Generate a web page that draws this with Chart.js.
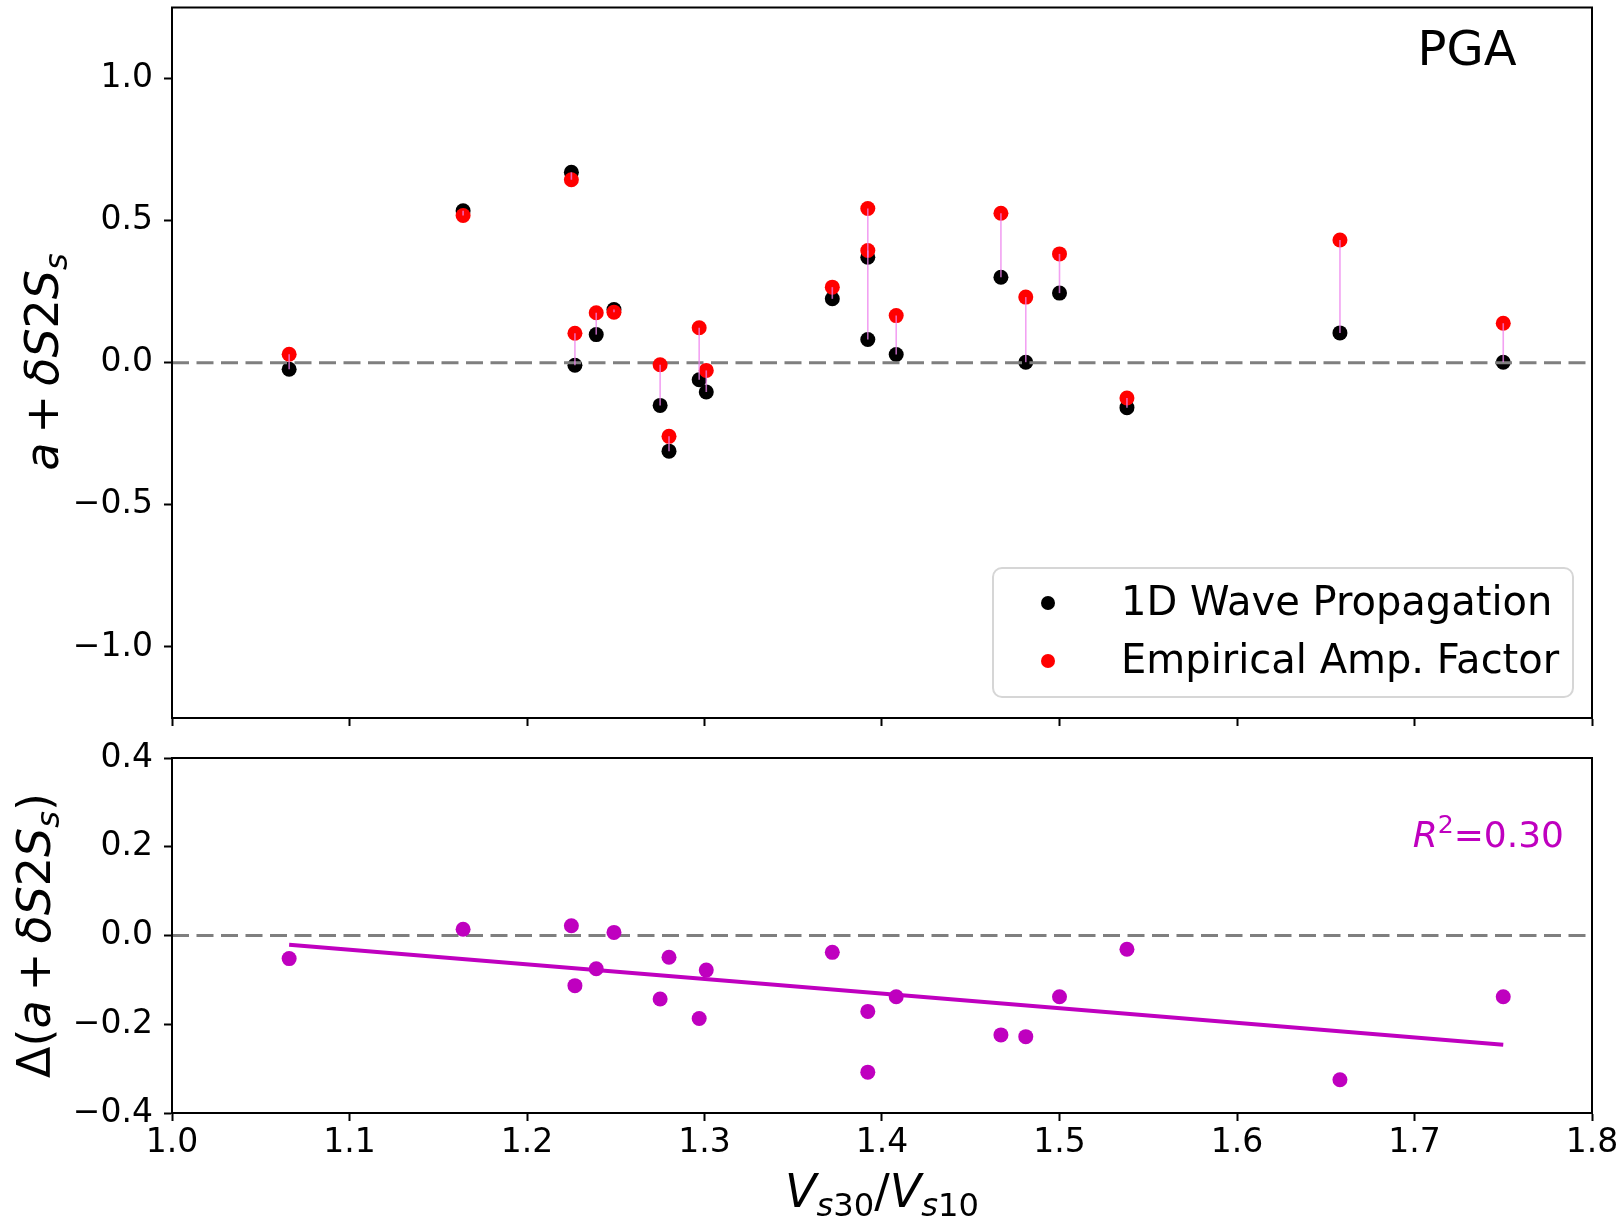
<!DOCTYPE html>
<html>
<head>
<meta charset="utf-8">
<title>PGA site term comparison</title>
<script src="https://cdn.jsdelivr.net/npm/chart.js@4.4.1/dist/chart.umd.min.js"></script>
<style>
  body { margin: 0; background: #fff; }
  #wrap { position: relative; width: 1623px; height: 1219px; }
  canvas { position: absolute; left: 0; }
  #top { top: 0; }
  #bottom { top: 740px; }
</style>
</head>
<body>
<div id="wrap">
  <canvas id="top" width="1623" height="740" style="width:1623px;height:740px"></canvas>
  <canvas id="bottom" width="1623" height="479" style="width:1623px;height:479px"></canvas>
</div>
<script>
// values
const vsRatio   = [1.066, 1.164, 1.225, 1.227, 1.239, 1.249, 1.275, 1.280, 1.297, 1.301, 1.372, 1.392, 1.392, 1.408, 1.467, 1.481, 1.500, 1.538, 1.658, 1.750];
const wave1D    = [-0.023, 0.535, 0.670, -0.009, 0.099, 0.187, -0.150, -0.311, -0.060, -0.103, 0.225, 0.371, 0.082, 0.029, 0.301, 0.002, 0.245, -0.158, 0.105, 0.002];
const empirical = [0.030, 0.518, 0.644, 0.104, 0.176, 0.178, -0.007, -0.259, 0.123, -0.027, 0.266, 0.543, 0.395, 0.166, 0.526, 0.231, 0.383, -0.124, 0.432, 0.139];
const deltaAmp  = [-0.052, 0.014, 0.022, -0.113, -0.075, 0.007, -0.143, -0.049, -0.187, -0.078, -0.038, -0.171, -0.308, -0.138, -0.224, -0.228, -0.138, -0.031, -0.325, -0.138];
const fitX = [1.066, 1.750];
const fitY = [-0.021, -0.246];
const rSquared = '0.30';

const xTicks = [1.0, 1.1, 1.2, 1.3, 1.4, 1.5, 1.6, 1.7, 1.8];
const yTicksTop = [-1.0, -0.5, 0.0, 0.5, 1.0];
const yTicksBottom = [-0.4, -0.2, 0.0, 0.2, 0.4];

const FONT = 'DejaVu Sans';
Chart.defaults.font.family = FONT;
Chart.defaults.color = '#000';

const pts = (xs, ys) => xs.map((x, i) => ({ x: x, y: ys[i] }));
const fmt = v => (v < 0 ? '\u2212' : '') + Math.abs(v).toFixed(1);

// draw a label made of pieces: [text, style] with style r / i / sub / subi / sup
function drawRich(ctx, parts, size, x, y, rotate, align, color) {
    const fontOf = st => {
        const small = st === 'sub' || st === 'subi' || st === 'sup';
        const it = st === 'i' || st === 'subi';
        return (it ? 'italic ' : '') + (small ? size * 0.7 : size) + 'px "' + FONT + '"';
    };
    ctx.save();
    ctx.translate(x, y);
    if (rotate) ctx.rotate(-Math.PI / 2);
    ctx.fillStyle = color || '#000';
    ctx.textBaseline = 'alphabetic';
    ctx.textAlign = 'left';
    const widths = parts.map(p => { ctx.font = fontOf(p[1]); return ctx.measureText(p[0]).width; });
    const total = widths.reduce((a, b) => a + b, 0);
    let cx = align === 'right' ? -total : -total / 2;
    parts.forEach((p, i) => {
        ctx.font = fontOf(p[1]);
        let dy = 0;
        if (p[1] === 'sub' || p[1] === 'subi') dy = size * 0.2;
        if (p[1] === 'sup') dy = -size * 0.4;
        ctx.fillText(p[0], cx, dy);
        cx += widths[i];
    });
    ctx.restore();
}

const fixTicks = list => scale => { scale.ticks = list.map(v => ({ value: v })); };
const noPad = s => { s.paddingTop = 0; s.paddingBottom = 0; s.paddingLeft = 0; s.paddingRight = 0; };

function axisX(showLabels, height) {
    return {
        type: 'linear', min: 1.0, max: 1.8,
        afterBuildTicks: fixTicks(xTicks),
        afterFit: s => { s.height = height; noPad(s); },
        ticks: { display: showLabels, padding: 3, font: { size: 33 }, color: '#000', callback: v => v.toFixed(1) },
        grid: { drawOnChartArea: false, drawTicks: true, tickLength: 8, tickWidth: 2, tickColor: '#000' },
        border: { display: true, color: '#000', width: 2 }
    };
}

function axisY(min, max, list) {
    return {
        type: 'linear', min: min, max: max,
        afterBuildTicks: fixTicks(list),
        afterFit: s => { s.width = 172; noPad(s); },
        ticks: { padding: 11, font: { size: 33 }, color: '#000', callback: fmt },
        grid: { drawOnChartArea: false, drawTicks: true, tickLength: 8, tickWidth: 2, tickColor: '#000' },
        border: { display: true, color: '#000', width: 2 }
    };
}

const frame = {
    id: 'frame',
    afterDraw(chart) {
        const a = chart.chartArea, ctx = chart.ctx;
        ctx.save();
        ctx.strokeStyle = '#000';
        ctx.lineWidth = 2;
        ctx.strokeRect(a.left, a.top, a.right - a.left, a.bottom - a.top);
        ctx.restore();
    }
};

// thin violet links between the two estimates at each site
const links = {
    id: 'links',
    afterDatasetsDraw(chart) {
        const xs = chart.scales.x, ys = chart.scales.y, ctx = chart.ctx;
        ctx.save();
        ctx.strokeStyle = 'rgba(238,130,238,0.75)';
        ctx.lineWidth = 1.6;
        vsRatio.forEach((v, i) => {
            const px = xs.getPixelForValue(v);
            ctx.beginPath();
            ctx.moveTo(px, ys.getPixelForValue(wave1D[i]));
            ctx.lineTo(px, ys.getPixelForValue(empirical[i]));
            ctx.stroke();
        });
        ctx.restore();
    }
};

const topDecor = {
    id: 'topDecor',
    afterDraw(chart) {
        const a = chart.chartArea, ctx = chart.ctx;
        ctx.save();
        // PGA tag
        ctx.font = '48px "' + FONT + '"';
        ctx.fillStyle = '#000';
        ctx.textAlign = 'center';
        ctx.textBaseline = 'alphabetic';
        ctx.fillText('PGA', a.right - 125, a.top + 57);

        // legend box
        const bx = a.right - 599, by = a.bottom - 150, bw = 580, bh = 129, r = 9;
        ctx.beginPath();
        ctx.moveTo(bx + r, by);
        ctx.arcTo(bx + bw, by, bx + bw, by + bh, r);
        ctx.arcTo(bx + bw, by + bh, bx, by + bh, r);
        ctx.arcTo(bx, by + bh, bx, by, r);
        ctx.arcTo(bx, by, bx + bw, by, r);
        ctx.closePath();
        ctx.fillStyle = 'rgba(255,255,255,0.8)';
        ctx.fill();
        ctx.strokeStyle = '#d6d6d6';
        ctx.lineWidth = 2;
        ctx.stroke();

        const items = [chart.data.datasets[2], chart.data.datasets[0]];
        ctx.font = '40px "' + FONT + '"';
        ctx.textAlign = 'left';
        ctx.textBaseline = 'middle';
        items.forEach((ds, k) => {
            const cy = by + 35 + k * 58;
            ctx.beginPath();
            ctx.arc(bx + 55, cy, 7, 0, Math.PI * 2);
            ctx.fillStyle = ds.backgroundColor;
            ctx.fill();
            ctx.fillStyle = '#000';
            ctx.fillText(ds.label, bx + 128, cy + 2);
        });

        // y label
        drawRich(ctx, [['a', 'i'], ['\u2009+\u2009', 'r'], ['\u03b4', 'i'], ['S', 'i'], ['2', 'r'], ['S', 'i'], ['s', 'subi']],
            46, 58, 362, true, 'center');
        ctx.restore();
    }
};

const bottomDecor = {
    id: 'bottomDecor',
    afterDraw(chart) {
        const a = chart.chartArea, ctx = chart.ctx;
        drawRich(ctx, [['R', 'i'], ['2', 'sup'], ['=' + rSquared, 'r']], 36, a.right - 28, 107, false, 'right', '#bf00bf');
        drawRich(ctx, [['\u0394(', 'r'], ['a', 'i'], ['\u2009+\u2009', 'r'], ['\u03b4', 'i'], ['S', 'i'], ['2', 'r'], ['S', 'i'], ['s', 'subi'], [')', 'r']],
            46, 50, (a.top + a.bottom) / 2, true, 'center');
        drawRich(ctx, [['V', 'i'], ['s', 'subi'], ['30', 'sub'], ['/', 'r'], ['V', 'i'], ['s', 'subi'], ['10', 'sub']],
            46, (a.left + a.right) / 2, 467, false, 'center');
    }
};

const zeroLine = {
    type: 'line', label: 'zero', data: pts([1.0, 1.8], [0, 0]),
    borderColor: '#7f7f7f', borderWidth: 3, borderDash: [17, 7.5], pointRadius: 0, showLine: true, fill: false
};

new Chart(document.getElementById('top'), {
    type: 'scatter',
    data: {
        datasets: [
            { label: 'Empirical Amp. Factor', data: pts(vsRatio, empirical), backgroundColor: '#ff0000', borderWidth: 0, pointRadius: 7.5 },
            zeroLine,
            { label: '1D Wave Propagation', data: pts(vsRatio, wave1D), backgroundColor: '#000000', borderWidth: 0, pointRadius: 7.5 }
        ]
    },
    options: {
        responsive: false, animation: false, events: [],
        layout: { padding: { left: 0, right: 31, top: 7, bottom: 0 } },
        plugins: { legend: { display: false }, tooltip: { enabled: false } },
        scales: { x: axisX(false, 22), y: axisY(-1.25, 1.25, yTicksTop) }
    },
    plugins: [links, frame, topDecor]
});

new Chart(document.getElementById('bottom'), {
    type: 'scatter',
    data: {
        datasets: [
            { label: 'delta', data: pts(vsRatio, deltaAmp), backgroundColor: '#bf00bf', borderWidth: 0, pointRadius: 7.5 },
            { type: 'line', label: 'fit', data: pts(fitX, fitY), borderColor: '#bf00bf', borderWidth: 4, pointRadius: 0, showLine: true, fill: false },
            Object.assign({}, zeroLine, { data: pts([1.0, 1.8], [0, 0]) })
        ]
    },
    options: {
        responsive: false, animation: false, events: [],
        layout: { padding: { left: 0, right: 31, top: 18, bottom: 0 } },
        plugins: { legend: { display: false }, tooltip: { enabled: false } },
        scales: { x: axisX(true, 106), y: axisY(-0.4, 0.4, yTicksBottom) }
    },
    plugins: [frame, bottomDecor]
});
</script>
</body>
</html>
